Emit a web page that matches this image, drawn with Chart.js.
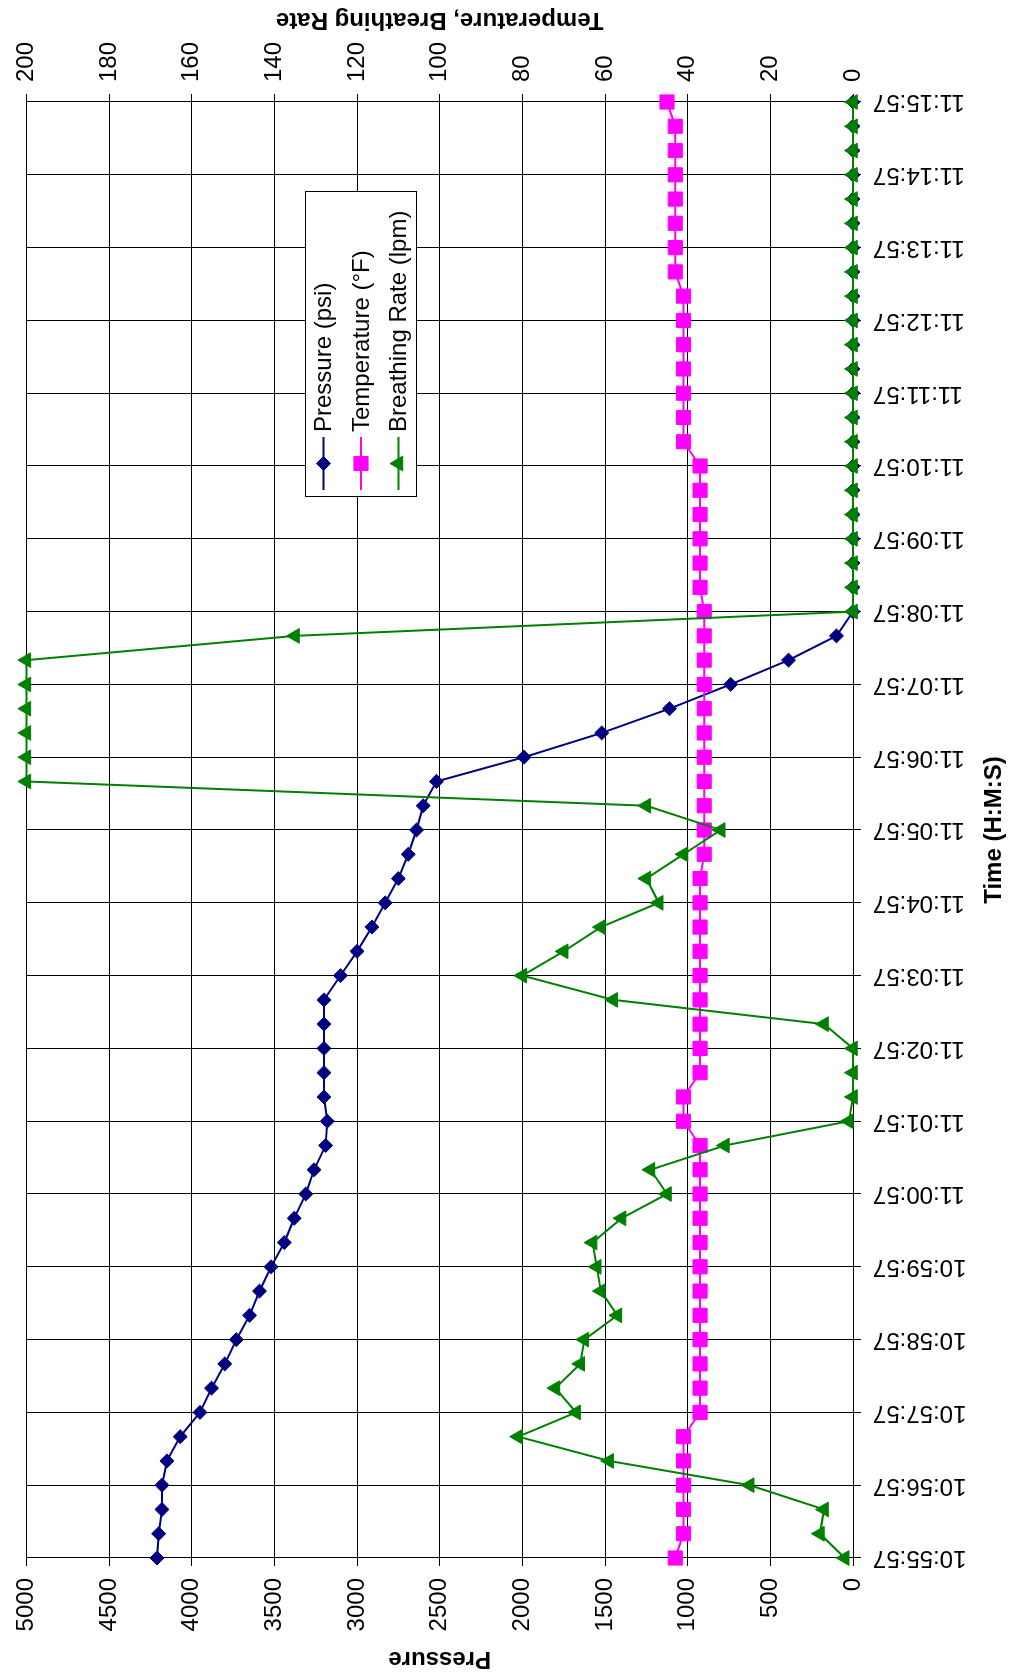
<!DOCTYPE html>
<html>
<head>
<meta charset="utf-8">
<script src="https://cdn.jsdelivr.net/npm/chart.js@4/dist/chart.umd.min.js"></script>
<style>
  html, body { margin: 0; padding: 0; background: #fff; overflow: hidden; }
  body { width: 1011px; height: 1676px; position: relative; }
  /* the landscape chart is turned a quarter turn counter-clockwise onto the page */
  #frame {
    position: absolute; left: 0; top: 0;
    width: 1676px; height: 1011px;
    transform-origin: 0 0;
    transform: translateY(1676px) rotate(-90deg);
  }
  canvas { display: block; }
</style>
</head>
<body>
<div id="frame"><canvas id="c" width="1676" height="1011"></canvas></div>
<script>
// Sample times, one reading every 20 seconds
const timeLabels = [
  '10:55:57','10:56:17','10:56:37',
  '10:56:57','10:57:17','10:57:37',
  '10:57:57','10:58:17','10:58:37',
  '10:58:57','10:59:17','10:59:37',
  '10:59:57','11:00:17','11:00:37',
  '11:00:57','11:01:17','11:01:37',
  '11:01:57','11:02:17','11:02:37',
  '11:02:57','11:03:17','11:03:37',
  '11:03:57','11:04:17','11:04:37',
  '11:04:57','11:05:17','11:05:37',
  '11:05:57','11:06:17','11:06:37',
  '11:06:57','11:07:17','11:07:37',
  '11:07:57','11:08:17','11:08:37',
  '11:08:57','11:09:17','11:09:37',
  '11:09:57','11:10:17','11:10:37',
  '11:10:57','11:11:17','11:11:37',
  '11:11:57','11:12:17','11:12:37',
  '11:12:57','11:13:17','11:13:37',
  '11:13:57','11:14:17','11:14:37',
  '11:14:57','11:15:17','11:15:37',
  '11:15:57'
];

// Cylinder pressure (psi)
const pressurePsi = [
  4210, 4200, 4180, 4180, 4150, 4070, 3950, 3880, 3800, 3730,
  3650, 3590, 3520, 3440, 3380, 3310, 3260, 3190, 3180, 3200,
  3200, 3200, 3200, 3200, 3100, 3000, 2910, 2830, 2750, 2690,
  2640, 2600, 2520, 1990, 1520, 1110, 740, 390, 100, 0,
  0, 0, 0, 0, 0, 0, 0, 0, 0, 0,
  0, 0, 0, 0, 0, 0, 0, 0, 0, 0,
  0
];

// Temperature (°F)
const temperatureF = [
  43, 41, 41, 41, 41, 41, 37, 37, 37, 37,
  37, 37, 37, 37, 37, 37, 37, 37, 41, 41,
  37, 37, 37, 37, 37, 37, 37, 37, 37, 36,
  36, 36, 36, 36, 36, 36, 36, 36, 36, 36,
  37, 37, 37, 37, 37, 37, 41, 41, 41, 41,
  41, 41, 41, 43, 43, 43, 43, 43, 43, 43,
  45
];

// Breathing rate (lpm)
const breathingLpm = [
  2, 8, 7, 25, 59, 81, 67, 72, 66, 65,
  57, 61, 62, 63, 56, 45, 49, 31, 1, 0,
  0, 0, 7, 58, 80, 70, 61, 47, 50, 41,
  32, 50, 200, 200, 200, 200, 200, 200, 135, 0,
  0, 0, 0, 0, 0, 0, 0, 0, 0, 0,
  0, 0, 0, 0, 0, 0, 0, 0, 0, 0,
  0
];

// Axis ranges
const pressureRange = [0, 5000, 500];
const tempRateRange = [0, 200, 20];

const FONT = '"Liberation Sans", Arial, Helvetica, sans-serif';
const NAVY = '#000080', MAGENTA = '#FF00FF', GREEN = '#008000';

Chart.defaults.font.family = FONT;
Chart.defaults.font.size = 24;
Chart.defaults.color = '#000';

const seriesStyles = [
  { label: 'Pressure (psi)', color: NAVY, shape: 'rectRot', r: 7 },
  { label: 'Temperature (°F)', color: MAGENTA, shape: 'rect', r: 10 },
  { label: 'Breathing Rate (lpm)', color: GREEN, shape: 'triangle', r: 8.5 }
];

function drawMarker(ctx, shape, x, y, r, color) {
  ctx.save();
  ctx.fillStyle = color; ctx.strokeStyle = color; ctx.lineWidth = 1;
  ctx.beginPath();
  if (shape === 'rectRot') {
    ctx.moveTo(x - r, y); ctx.lineTo(x, y - r); ctx.lineTo(x + r, y); ctx.lineTo(x, y + r);
  } else if (shape === 'rect') {
    const s = r * Math.SQRT1_2;
    ctx.rect(x - s, y - s, 2 * s, 2 * s);
  } else {
    for (let k = 0; k < 3; k++) {
      const a = k * 2 * Math.PI / 3;
      const px = x + Math.sin(a) * r, py = y - Math.cos(a) * r;
      if (k === 0) ctx.moveTo(px, py); else ctx.lineTo(px, py);
    }
  }
  ctx.closePath(); ctx.fill(); ctx.stroke();
  ctx.restore();
}

// Axis titles and the boxed legend
const annotations = {
  id: 'annotations',
  afterDraw(chart) {
    const ctx = chart.ctx, a = chart.chartArea;
    const midY = (a.top + a.bottom) / 2, midX = (a.left + a.right) / 2;
    ctx.save();
    ctx.fillStyle = '#000';
    ctx.font = 'bold 24px ' + FONT;
    ctx.textAlign = 'center';
    ctx.textBaseline = 'alphabetic';

    ctx.save(); ctx.translate(24, midY); ctx.rotate(-Math.PI / 2);
    ctx.fillText('Pressure', 0, 0); ctx.restore();

    ctx.save(); ctx.translate(1663, midY); ctx.rotate(-Math.PI / 2);
    ctx.fillText('Temperature, Breathing Rate', 0, 0); ctx.restore();

    ctx.fillText('Time (H:M:S)', midX, 1001);

    // legend box
    const bx = 1179, by = 305, bw = 305, bh = 112;
    ctx.fillStyle = '#fff';
    ctx.fillRect(bx, by, bw, bh);
    ctx.strokeStyle = '#000'; ctx.lineWidth = 1;
    ctx.strokeRect(bx + 0.5, by + 0.5, bw, bh - 1);
    ctx.font = '24px ' + FONT;
    ctx.textAlign = 'left'; ctx.textBaseline = 'middle';
    seriesStyles.forEach((s, i) => {
      const y = by + 18.5 + i * 37.5;
      ctx.strokeStyle = s.color; ctx.lineWidth = 2;
      ctx.beginPath(); ctx.moveTo(1186, y); ctx.lineTo(1239, y); ctx.stroke();
      drawMarker(ctx, s.shape, 1212.5, y, s.r, s.color);
      ctx.fillStyle = '#000';
      ctx.fillText(s.label, 1244, y + 1);
    });
    ctx.restore();
  }
};

const minuteColor = (c) => (c.index % 3 === 0 ? '#000' : 'rgba(0,0,0,0)');

function series(i, data, axis, order) {
  const s = seriesStyles[i];
  return {
    label: s.label, data, yAxisID: axis, order,
    borderColor: s.color, backgroundColor: s.color,
    borderWidth: 2, tension: 0,
    pointStyle: s.shape, pointRadius: s.r, pointHoverRadius: s.r,
    pointBorderWidth: 1, pointBackgroundColor: s.color, pointBorderColor: s.color,
    clip: false
  };
}

new Chart(document.getElementById('c'), {
  type: 'line',
  data: {
    labels: timeLabels,
    datasets: [
      series(0, pressurePsi, 'y', 3),
      series(1, temperatureF, 'y1', 2),
      series(2, breathingLpm, 'y1', 1)
    ]
  },
  options: {
    responsive: false,
    animation: false,
    events: [],
    layout: { padding: { top: 23, left: 0, right: 0, bottom: 0 } },
    plugins: { legend: { display: false }, tooltip: { enabled: false } },
    scales: {
      x: {
        type: 'category',
        offset: false,
        grid: { color: minuteColor, tickColor: minuteColor, lineWidth: 1, tickLength: 8 },
        border: { color: '#000', width: 1 },
        ticks: {
          autoSkip: false, maxRotation: 90, minRotation: 90, padding: 12,
          callback: function (v, i) { return i % 3 === 0 ? this.getLabelForValue(v) : ''; }
        },
        afterFit: (s) => { s.height = 158; }
      },
      y: {
        position: 'left',
        min: pressureRange[0], max: pressureRange[1],
        grid: { color: '#000', tickColor: '#000', lineWidth: 1, tickLength: 8 },
        border: { color: '#000', width: 1 },
        ticks: { stepSize: pressureRange[2], padding: 12, callback: (v) => String(v) },
        afterFit: (s) => { s.width = 118; }
      },
      y1: {
        position: 'right',
        min: tempRateRange[0], max: tempRateRange[1],
        grid: { drawOnChartArea: false, tickColor: '#000', lineWidth: 1, tickLength: 8 },
        border: { color: '#000', width: 1 },
        ticks: { stepSize: tempRateRange[2], padding: 12, callback: (v) => String(v) },
        afterFit: (s) => { s.width = 102; }
      }
    }
  },
  plugins: [annotations]
});
</script>
</body>
</html>
